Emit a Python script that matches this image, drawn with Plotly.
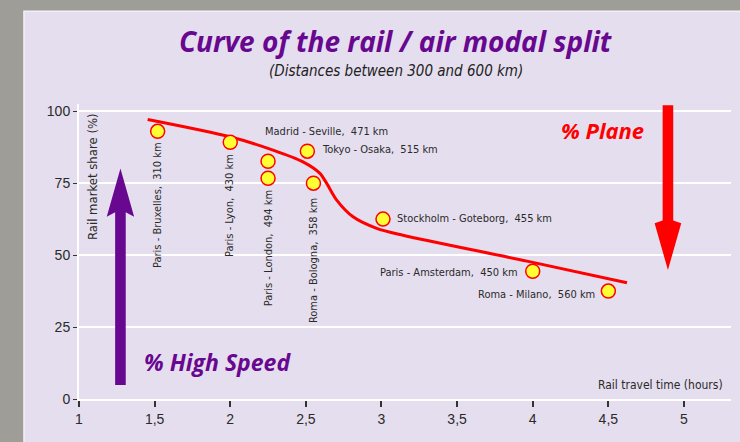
import plotly.graph_objects as go

# ---- data ----
routes = ["Paris - Bruxelles,  310 km", "Paris - Lyon,  430 km", "Madrid - Seville,  471 km",
          "Paris - London,  494 km", "Tokyo - Osaka,  515 km", "Roma - Bologna,  358 km",
          "Stockholm - Goteborg,  455 km", "Paris - Amsterdam,  450 km", "Roma - Milano,  560 km"]
travel_time = [1.52, 2.0, 2.25, 2.25, 2.51, 2.55, 3.01, 4.0, 4.5]
rail_share = [93.0, 89.2, 82.6, 76.7, 86.1, 75.0, 62.5, 44.4, 37.5]

curve_x = [1.454, 1.998, 2.283, 2.481, 2.593, 2.638, 2.704, 2.812, 2.968, 3.142, 3.962, 4.623]
curve_y = [97.1, 91.1, 86.5, 82.4, 78.4, 74.9, 69.1, 63.3, 59.3, 56.9, 47.9, 40.4]

x_ticks = [1, 1.5, 2, 2.5, 3, 3.5, 4, 4.5, 5]
x_tick_labels = ["1", "1,5", "2", "2,5", "3", "3,5", "4", "4,5", "5"]
y_ticks = [0, 25, 50, 75, 100]

# ---- styles ----
PANEL = "#e5deee"
PURPLE = "#68078f"
RED = "#ff0000"
LABEL_FONT = "DejaVu Sans Condensed, Roboto, sans-serif"
BIG_FONT = "Open Sans, Lato, sans-serif"
DARK = "#2a2a2a"

fig = go.Figure()
fig.add_trace(go.Scatter(x=curve_x, y=curve_y, mode="lines", line=dict(color=RED, width=3, shape="spline", smoothing=0.8),
                         hoverinfo="skip", cliponaxis=False))
fig.add_trace(go.Scatter(x=travel_time, y=rail_share, mode="markers",
                         marker=dict(size=14, color="#ffff33", line=dict(color=RED, width=1.5)),
                         text=routes, hoverinfo="text", cliponaxis=False))

# label placement: (angle, xanchor, yanchor, xshift, yshift)
label_layout = [
    (-90, "center", "top", 0, -9),
    (-90, "center", "top", 0, -10),
    (0, "left", "middle", -5, 30),
    (-90, "center", "top", 0, -10),
    (0, "left", "middle", 13, 2),
    (-90, "center", "top", 0, -13),
    (0, "left", "middle", 12, 1),
    (0, "right", "middle", -13, -1),
    (0, "right", "middle", -11, -3),
]
ann = []
for name, xv, yv, (ang, xa, ya, xs, ys) in zip(routes, travel_time, rail_share, label_layout):
    ann.append(dict(x=xv, y=yv, xref="x", yref="y", text=name, showarrow=False, textangle=ang,
                    xanchor=xa, yanchor=ya, xshift=xs, yshift=ys,
                    font=dict(family=LABEL_FONT, size=11, color=DARK)))

ann += [
    dict(x=0.486, y=1.111, xref="paper", yref="paper", text="<i>(Distances between 300 and 600 km)</i>",
         showarrow=False, font=dict(family=LABEL_FONT, size=15, color="#222"), xanchor="center", yanchor="middle"),
    dict(x=4.464, y=93.4, xref="x", yref="y", text="<b><i>% Plane</i></b>", showarrow=False,
         font=dict(family=BIG_FONT, size=22, color=RED), xanchor="center", yanchor="middle"),
    dict(x=1.919, y=12.8, xref="x", yref="y", text="<b><i>% High Speed</i></b>", showarrow=False,
         font=dict(family=BIG_FONT, size=23, color=PURPLE), xanchor="center", yanchor="middle"),
    dict(x=5.271, y=4.9, xref="x", yref="y", text="Rail travel time (hours)", showarrow=False,
         font=dict(family=LABEL_FONT, size=12, color=DARK), xanchor="right", yanchor="middle"),
    dict(x=1.086, y=77.1, xref="x", yref="y", text="Rail market share (%)", showarrow=False, textangle=-90,
         font=dict(family=LABEL_FONT, size=13, color=DARK), xanchor="center", yanchor="middle"),
]

# decorative arrows (shaft + head), in data coordinates
def arrow_path(xc, y_tail, y_join, y_base, y_tip, half_shaft, half_head):
    return (f"M {xc-half_shaft},{y_tail} L {xc+half_shaft},{y_tail} L {xc+half_shaft},{y_join} "
            f"L {xc+half_head},{y_base} L {xc},{y_tip} L {xc-half_head},{y_base} L {xc-half_shaft},{y_join} Z")

shapes = [
    dict(type="rect", xref="paper", yref="paper", x0=-0.0844, x1=1.2, y0=-0.5, y1=1.314,
         fillcolor=PANEL, line=dict(color="#f4f0f6", width=1.5), layer="below"),
    dict(type="path", xref="x", yref="y", path=arrow_path(1.274, 4.86, 64.9, 63.3, 80.1, 0.035, 0.0906),
         fillcolor=PURPLE, line=dict(width=0), layer="above"),
    dict(type="path", xref="x", yref="y", path=arrow_path(4.894, 102.1, 62.0, 61.1, 44.8, 0.035, 0.088),
         fillcolor=RED, line=dict(width=0), layer="above"),
]

fig.update_layout(
    width=740, height=442,
    margin=dict(l=79, r=9, t=104, b=43),
    paper_bgcolor="#9e9d97", plot_bgcolor=PANEL,
    showlegend=False,
    title=dict(text="<b><i>Curve of the rail / air modal split</i></b>", x=0.534, y=0.905, xref="container",
               yref="container", xanchor="center", yanchor="middle",
               font=dict(family=BIG_FONT, size=28, color=PURPLE)),
    annotations=ann, shapes=shapes,
    xaxis=dict(range=[1, 5.311], tickvals=x_ticks, ticktext=x_tick_labels, showgrid=False, zeroline=False,
               showline=True, linecolor="white", linewidth=2, ticks="outside", ticklen=6, tickcolor="#333",
               tickwidth=1.5, tickfont=dict(family="Liberation Sans, Arial, sans-serif", size=14, color=DARK)),
    yaxis=dict(range=[0, 102.5], tickvals=y_ticks, showgrid=True, gridcolor="white", gridwidth=1.5, zeroline=False,
               showline=True, linecolor="white", linewidth=2, ticks="outside", ticklen=4, tickcolor="#333",
               tickfont=dict(family="Liberation Sans, Arial, sans-serif", size=14, color=DARK)),
)

fig.write_html("out.html", config={"displayModeBar": False},
               post_script="document.body.style.margin='0px';")
